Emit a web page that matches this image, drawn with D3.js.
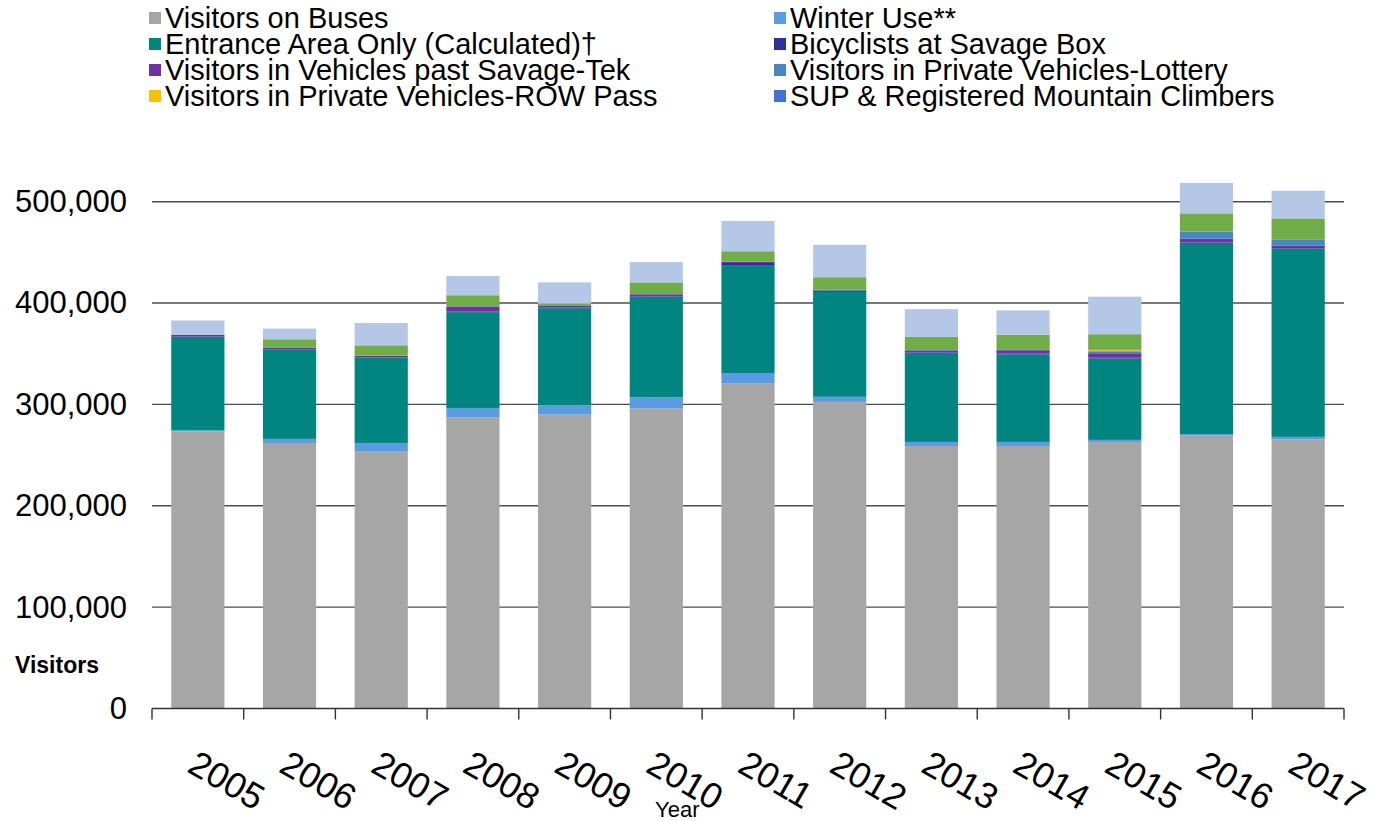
<!DOCTYPE html>
<html>
<head>
<meta charset="utf-8">
<script src="https://cdn.jsdelivr.net/npm/d3@7"></script>
<style>
  html, body { margin: 0; padding: 0; background: #ffffff; }
  svg { display: block; }
  text { font-family: "Liberation Sans", Arial, sans-serif; fill: #000; }
</style>
</head>
<body>
<svg id="chart" width="1390" height="821"></svg>
<script>
// ---- data ----
const years = ["2005","2006","2007","2008","2009","2010","2011","2012","2013","2014","2015","2016","2017"];

const visitorsOnBuses     = [273500, 262000, 254000, 287000, 290000, 296000, 321000, 302500, 259000, 259000, 263000, 269700, 265500];
const winterUse           = [1000, 4000, 8000, 9500, 9000, 11000, 10000, 5000, 4000, 4000, 2000, 1000, 2500];
const entranceAreaOnly    = [92000, 88000, 84000, 94500, 96000, 99000, 106500, 103500, 87000, 86500, 80500, 188700, 185800];
const bicyclistsSavageBox = [500, 500, 500, 600, 600, 600, 2000, 1200, 1300, 500, 500, 500, 500];
const vehiclesSavageTek   = [1500, 1500, 1500, 5000, 2000, 2000, 1300, 500, 2000, 3500, 4500, 3800, 2500];
const privateLottery      = [0, 0, 0, 0, 0, 0, 0, 0, 0, 0, 2000, 6500, 6000];
const privateROWPass      = [0, 0, 0, 0, 0, 0, 0, 0, 0, 0, 1000, 0, 0];
const supClimbers         = [300, 300, 300, 300, 300, 300, 300, 300, 300, 300, 300, 300, 300];
const unlabeledGreen      = [0, 8000, 10000, 10800, 1500, 11500, 10000, 12500, 13000, 15000, 15500, 18000, 20400];
const unlabeledPaleBlue   = [14000, 10500, 22000, 19000, 21000, 20000, 30000, 32000, 27300, 24000, 37000, 30000, 27400];

const yTicks = [0, 100000, 200000, 300000, 400000, 500000];

// stack order bottom -> top
const seriesDefs = [
  {key: "Visitors on Buses", values: visitorsOnBuses, color: "#a6a6a6"},
  {key: "Winter Use**", values: winterUse, color: "#5b9be0"},
  {key: "Entrance Area Only (Calculated)†", values: entranceAreaOnly, color: "#008580"},
  {key: "Bicyclists at Savage Box", values: bicyclistsSavageBox, color: "#2e2f9a"},
  {key: "Visitors in Vehicles past Savage-Tek", values: vehiclesSavageTek, color: "#7030a0"},
  {key: "Visitors in Private Vehicles-Lottery", values: privateLottery, color: "#4a86c0"},
  {key: "Visitors in Private Vehicles-ROW Pass", values: privateROWPass, color: "#ffc000"},
  {key: "SUP & Registered Mountain Climbers", values: supClimbers, color: "#4472d4"},
  {key: "Unlabeled (green)", values: unlabeledGreen, color: "#70ad47"},
  {key: "Unlabeled (pale blue)", values: unlabeledPaleBlue, color: "#b4c7e7"}
];

// legend (two columns, as drawn)
const legendCol1 = ["Visitors on Buses", "Entrance Area Only (Calculated)†", "Visitors in Vehicles past Savage-Tek", "Visitors in Private Vehicles-ROW Pass"];
const legendCol2 = ["Winter Use**", "Bicyclists at Savage Box", "Visitors in Private Vehicles-Lottery", "SUP & Registered Mountain Climbers"];

// ---- build ----
const svg = d3.select("#chart");
const colorOf = Object.fromEntries(seriesDefs.map(s => [s.key, s.color]));

const table = years.map((y, i) => {
  const row = {year: y};
  seriesDefs.forEach(s => row[s.key] = s.values[i]);
  return row;
});

const plotLeft = 152, plotRight = 1344, yZero = 708.5, y500 = 201.7;

const x = d3.scaleBand().domain(years).range([plotLeft, plotRight])
  .paddingInner(0.42).paddingOuter(0.21);
const y = d3.scaleLinear().domain([0, 500000]).range([yZero, y500]);

// gridlines
svg.append("g").selectAll("line").data(yTicks.filter(d => d > 0)).join("line")
  .attr("x1", plotLeft).attr("x2", plotRight)
  .attr("y1", d => y(d)).attr("y2", d => y(d))
  .attr("stroke", "#4d4d4d").attr("stroke-width", 1.4);

// stacked bars
const stack = d3.stack().keys(seriesDefs.map(s => s.key));
const layers = stack(table);
svg.append("g").selectAll("g").data(layers).join("g")
  .attr("fill", d => colorOf[d.key])
  .selectAll("rect").data(d => d).join("rect")
  .attr("x", d => x(d.data.year))
  .attr("width", x.bandwidth())
  .attr("y", d => y(d[1]))
  .attr("height", d => Math.max(0, y(d[0]) - y(d[1])));

// y axis labels
const yAxis = d3.axisLeft(y).tickValues(yTicks).tickFormat(d3.format(",")).tickSize(0).tickPadding(0);
const yg = svg.append("g").attr("transform", "translate(127,0)").call(yAxis);
yg.select(".domain").remove();
yg.selectAll("text").attr("font-size", 31).attr("fill", "#000")
  .style("font-family", "'Liberation Sans', Arial, sans-serif");

// x axis line and ticks at band boundaries
const xg = svg.append("g");
xg.append("line").attr("x1", plotLeft).attr("x2", plotRight)
  .attr("y1", yZero).attr("y2", yZero).attr("stroke", "#333").attr("stroke-width", 1.4);
const boundaries = years.map(yr => x(yr) + x.bandwidth() / 2 - x.step() / 2)
  .concat([x(years[years.length - 1]) + x.bandwidth() / 2 + x.step() / 2]);
xg.selectAll("line.tick").data(boundaries).join("line").attr("class", "tick")
  .attr("x1", d => d).attr("x2", d => d)
  .attr("y1", yZero).attr("y2", yZero + 11)
  .attr("stroke", "#333").attr("stroke-width", 1.4);

// rotated year labels
xg.selectAll("text.year").data(years).join("text").attr("class", "year")
  .attr("transform", d => `translate(${x(d) + x.bandwidth() / 2 - 12},${771}) rotate(30)`)
  .attr("font-size", 36)
  .text(d => d);

// axis titles
svg.append("text").attr("x", 15).attr("y", 673).attr("font-size", 23).attr("font-weight", "bold").text("Visitors");
svg.append("text").attr("x", 655).attr("y", 817).attr("font-size", 22).text("Year");

// legend
const legendRowY = [18, 44, 70, 96];
function drawLegend(items, xSq) {
  const g = svg.append("g");
  const it = g.selectAll("g").data(items).join("g")
    .attr("transform", (d, i) => `translate(${xSq},${legendRowY[i]})`);
  it.append("rect").attr("x", 0).attr("y", -6).attr("width", 12).attr("height", 12)
    .attr("fill", d => colorOf[d]);
  it.append("text").attr("x", 16).attr("y", 10).attr("font-size", 29).text(d => d);
}
drawLegend(legendCol1, 149);
drawLegend(legendCol2, 774);
</script>
</body>
</html>
